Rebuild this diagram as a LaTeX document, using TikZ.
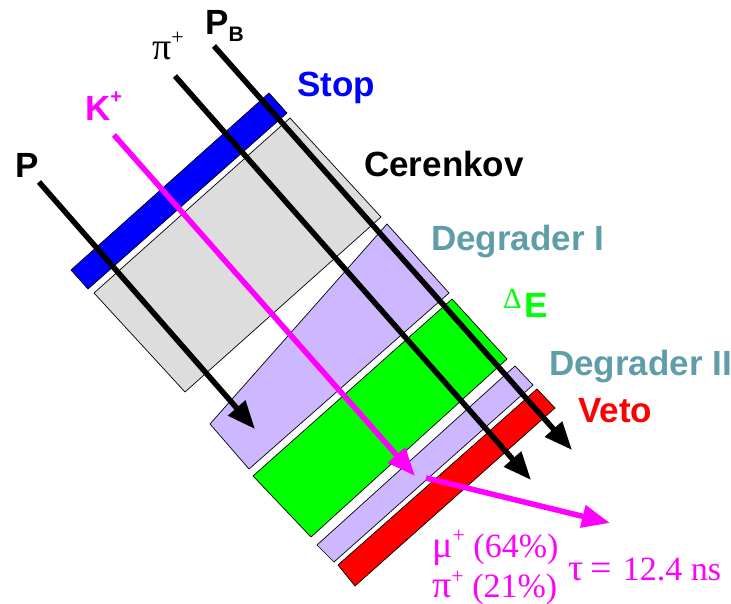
\documentclass[tikz,border=0pt]{standalone}
\usepackage{fontspec}
\setmainfont{Liberation Sans}
\newfontfamily\serifgreek{Liberation Serif}
\usetikzlibrary{arrows.meta}
\definecolor{degrader}{RGB}{205,184,255}
\definecolor{cerenkov}{RGB}{221,221,221}
\definecolor{tealtext}{RGB}{95,158,168}
\definecolor{kaon}{RGB}{255,0,255}
\newcommand{\raisedplus}[2]{\raisebox{#1}{\fontsize{#2}{#2}\selectfont +}}
\newcommand{\greekbig}[1]{{\fontsize{38}{38}\selectfont #1}}
\tikzset{
  counter/.style={draw=black, line width=0.7pt, line join=miter},
  beam/.style={line width=5.5pt, -{Triangle[length=28pt,width=22pt]}},
  bigtext/.style={inner sep=0pt, anchor=base west, font=\fontsize{35}{35}\selectfont\bfseries},
  serifbig/.style={inner sep=0pt, anchor=base west, font=\fontsize{34}{34}\selectfont\serifgreek}
}
\begin{document}
\begin{tikzpicture}[x=1pt, y=-1pt]
  \useasboundingbox (0,0) rectangle (731,604);

  \draw[counter, fill=cerenkov] (290,118) -- (381,217) -- (185,392) -- (94,293) -- cycle;
  \draw[counter, fill=blue] (71,270) -- (269,93) -- (287,113) -- (88,289) -- cycle;
  \draw[counter, fill=degrader] (387,224) -- (449,293) -- (249,469) -- (210,424) -- cycle;
  \draw[counter, fill=green] (452,299) -- (507,359) -- (311,537) -- (253,476) -- cycle;
  \draw[counter, fill=degrader] (515,366) -- (533,385) -- (334,562) -- (317,545) -- cycle;
  \draw[counter, fill=red] (537,389) -- (555,408) -- (355,586) -- (338,565) -- cycle;

  \coordinate (pStart) at (39,182);
  \coordinate (pEnd) at (255,429);
  \coordinate (piStart) at (175,76);
  \coordinate (piEnd) at (531,480);
  \coordinate (pbStart) at (214,46);
  \coordinate (pbEnd) at (572,450);
  \coordinate (kStart) at (114,135);
  \coordinate (kEnd) at (415,476);
  \coordinate (decayStart) at (426,478);
  \coordinate (decayEnd) at (610,523);

  \draw[beam] (pStart) -- (pEnd);
  \draw[beam] (piStart) -- (piEnd);
  \draw[beam] (pbStart) -- (pbEnd);
  \draw[beam, kaon] (kStart) -- (kEnd);
  \draw[beam, kaon] (decayStart) -- (decayEnd);

  \node[bigtext] (pLabel) at (15,178) {P};
  \node[bigtext] (pbLabel) at (205,35) {P\raisebox{-6.5pt}{\fontsize{21}{21}\selectfont B}};
  \node[serifbig] (piLabel) at (152,60) {\greekbig{π}\raisedplus{15pt}{22}};
  \node[bigtext, kaon] (kLabel) at (85,121) {K\raisedplus{17pt}{20}};
  \node[bigtext, blue] (stopLabel) at (297,97) {Stop};
  \node[bigtext] (cerenkovLabel) at (364,177) {Cerenkov};
  \node[bigtext, tealtext] (degOneLabel) at (431,251) {Degrader I};
  \node[bigtext, green] (deltaLabel) at (503,317) {\raisebox{9pt}{\fontsize{29}{29}\selectfont\mdseries\serifgreek Δ}\kern3pt E};
  \node[bigtext, tealtext] (degTwoLabel) at (549,375) {Degrader II};
  \node[bigtext, red] (vetoLabel) at (578,422) {Veto};
  \node[serifbig, kaon] (muLabel) at (432,557) {\greekbig{μ}\raisedplus{15pt}{22} (64\%)};
  \node[serifbig, kaon] (piDecayLabel) at (432,597) {\greekbig{π}\raisedplus{14pt}{22} (21\%)};
  \node[serifbig, kaon] (tauLabel) at (568,580) {\fontsize{38}{38}\selectfont τ\kern7pt=\kern11pt\fontsize{34}{34}\selectfont 12.4 ns};
\end{tikzpicture}
\end{document}
